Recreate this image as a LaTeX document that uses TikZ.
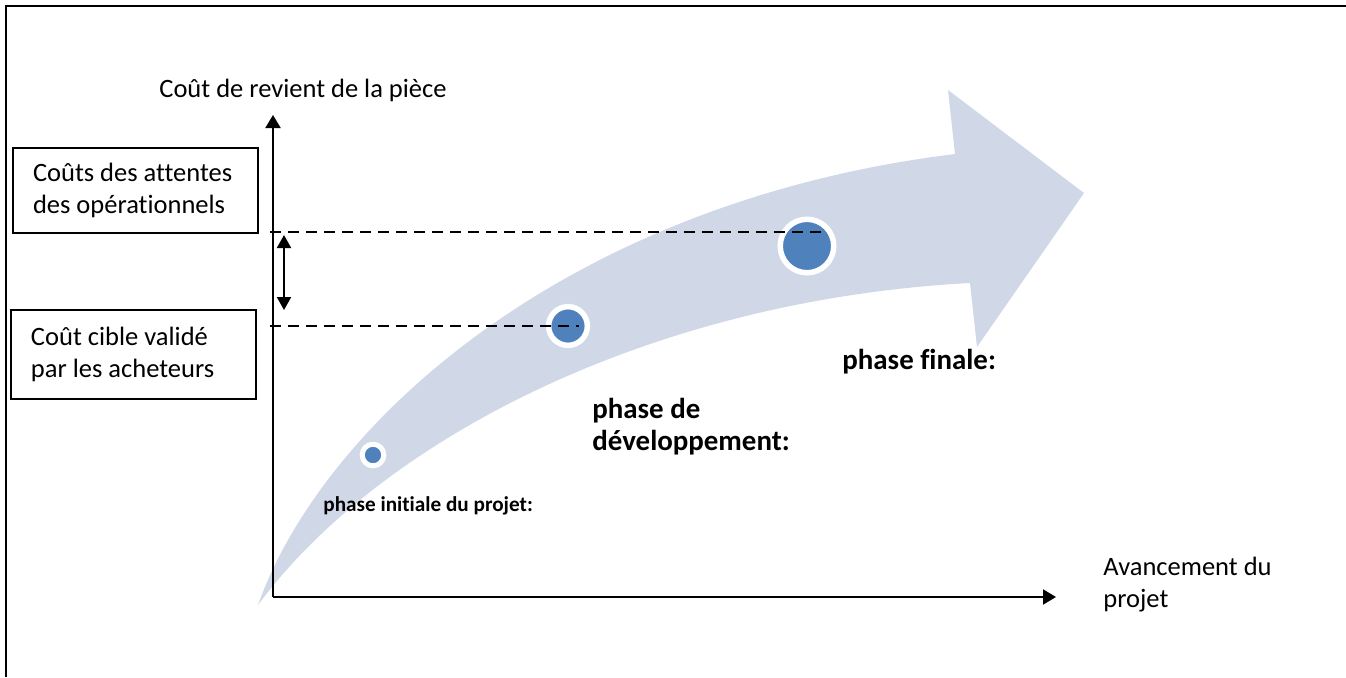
\documentclass[tikz,border=0pt]{standalone}
\usepackage{fontspec}
\setmainfont{Carlito}[Ligatures=NoCommon]
\usetikzlibrary{arrows.meta}
\definecolor{bandblue}{HTML}{D0D8E8}
\definecolor{dotblue}{HTML}{4F81BD}

\begin{document}
\begin{tikzpicture}[x=0.5pt, y=-0.5pt,
    txt/.style = {font=\fontsize{13.25}{16}\selectfont, inner sep=0},
    costbox/.style = {draw, line width=1pt, font=\fontsize{13.25}{16}\selectfont, align=flush left, text width=102.5pt, inner xsep=10pt, inner ysep=0, anchor=north west},
    phasebig/.style = {font=\bfseries\fontsize{14.45}{16}\selectfont, inner sep=0, align=left, anchor=base west},
    phasesmall/.style = {font=\bfseries\fontsize{10.6}{13}\selectfont, inner sep=0, anchor=base west},
    dot/.style = {circle, fill=dotblue, draw=white, inner sep=0},
    axis/.style = {line width=1pt, -{Triangle[length=6.5pt,width=7.5pt]}},
    level/.style = {line width=0.75pt, dash pattern=on 5.5pt off 3.5pt}]
	\useasboundingbox (0,0) rectangle (1346,677);
	\draw[line width=1pt] (1346,6) -- (6,6) -- (6,677);
	% curved arrow in the background
	\fill[bandblue] (258,605) .. controls (322,425) and (565,202) .. (955,154)
		-- (948,90) -- (1084,193) -- (977,347) -- (970,283)
		.. controls (650,300) and (380,440) .. (258,605) -- cycle;
	\node[dot, minimum size=10.8pt, line width=2.5pt] (d1) at (373,455){};
	\node[dot, minimum size=19.35pt, line width=2.75pt] (d2) at (568,326){};
	\node[dot, minimum size=26.75pt, line width=2.75pt] (d3) at (807,246){};
	\coordinate (O) at (273,597);
	\coordinate (ytop) at (273,115);
	\coordinate (xend) at (1056,597);
	\coordinate (h1) at (270,232);
	\coordinate (h2) at (270,326);
	\coordinate (e1) at (822,232);
	\coordinate (e2) at (579,326);
	\coordinate (a1) at (284,235);
	\coordinate (a2) at (284,310);
	\draw[level] (h1) -- (e1);
	\draw[level] (h2) -- (e2);
	\draw[axis] (O) -- (ytop);
	\draw[axis] (O) -- (xend);
	\draw[line width=1pt, {Triangle[length=6.5pt,width=7pt]}-{Triangle[length=6.5pt,width=7pt]}] (a1) -- (a2);
	\node[costbox, minimum height=42.5pt] (attentes) at (12,147) {Coûts des attentes\\des opérationnels};
	\node[costbox, minimum height=44.5pt] (cible) at (10,309) {Coût cible validé\\par les acheteurs};
	\node[txt, anchor=base west] (ylabel) at (159,97) {Coût de revient de la pièce};
	\node[txt, anchor=base west, align=left] (xlabel) at (1103,607) {Avancement du\\projet};
	\node[phasebig] (pfinale) at (842,369) {phase finale:};
	\node[phasebig] (pdev) at (592,450) {phase de\\développement:};
	\node[phasesmall] (pinit) at (323,511) {phase initiale du projet:};
\end{tikzpicture}
\end{document}
